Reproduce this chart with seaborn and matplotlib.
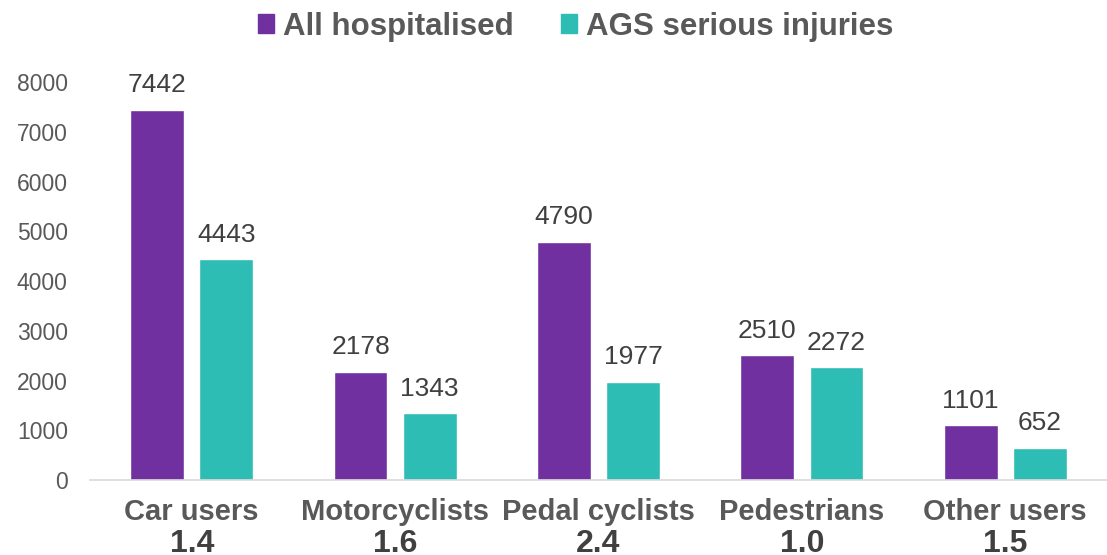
import pandas as pd
import matplotlib.pyplot as plt
import seaborn as sns

# chart data
categories = ["Car users", "Motorcyclists", "Pedal cyclists", "Pedestrians", "Other users"]
all_hospitalised = [7442, 2178, 4790, 2510, 1101]
ags_serious = [4443, 1343, 1977, 2272, 652]
ratios = ["1.4", "1.6", "2.4", "1.0", "1.5"]
series_names = ["All hospitalised", "AGS serious injuries"]
yticks = [0, 1000, 2000, 3000, 4000, 5000, 6000, 7000, 8000]

df = pd.DataFrame({
    "Category": categories * 2,
    "Series": [series_names[0]] * 5 + [series_names[1]] * 5,
    "Value": all_hospitalised + ags_serious,
})

sns.set_theme(style="white")
plt.rcParams['font.family'] = ['Liberation Sans', 'DejaVu Sans']

grey = "#595959"
palette = {series_names[0]: "#7030A0", series_names[1]: "#2EBDB5"}

fig = plt.figure(figsize=(11.07, 5.55), dpi=100)
ax = fig.add_axes([0.0813, 0.135, 0.9187, 0.717])

sns.barplot(data=df, x="Category", y="Value", hue="Series", palette=palette,
            width=0.68, gap=0.22, saturation=1, ax=ax, legend=False)

for cont in ax.containers:
    ax.bar_label(cont, padding=9, fontsize=19, color="#404040")

ax.set_ylim(0, 8000)
ax.set_xlim(-0.5, 4.5)
ax.set_yticks(yticks)
ax.set_yticklabels([str(t) for t in yticks], fontsize=16.5, color=grey)
ax.set_xticks(range(len(categories)))
ax.set_xticklabels([])
ax.tick_params(axis="both", length=0)
ax.tick_params(axis="y", pad=16)
ax.set_xlabel("")
ax.set_ylabel("")
for side in ["top", "right", "left"]:
    ax.spines[side].set_visible(False)
ax.spines["bottom"].set_color("#D9D9D9")
ax.spines["bottom"].set_linewidth(1.2)

# two-line category labels: name plus ratio
trans = ax.get_xaxis_transform()
for i, (cat, r) in enumerate(zip(categories, ratios)):
    ax.text(i, -0.08, cat, transform=trans, ha="center", va="center",
            fontsize=21, fontweight="bold", color=grey)
    ax.text(i, -0.16, r, transform=trans, ha="center", va="center",
            fontsize=23, fontweight="bold", color="#404040")

handles = [plt.Rectangle((0, 0), 1, 1, color=palette[s]) for s in series_names]
leg = fig.legend(handles, series_names, loc="center", bbox_to_anchor=(0.52, 0.952),
                 ncol=2, frameon=False, handlelength=0.52, handleheight=0.52,
                 handletextpad=0.28, columnspacing=1.5,
                 prop={"size": 22.5, "weight": "bold"})
for t in leg.get_texts():
    t.set_color(grey)

plt.savefig("out.png", dpi=100)
plt.close()
